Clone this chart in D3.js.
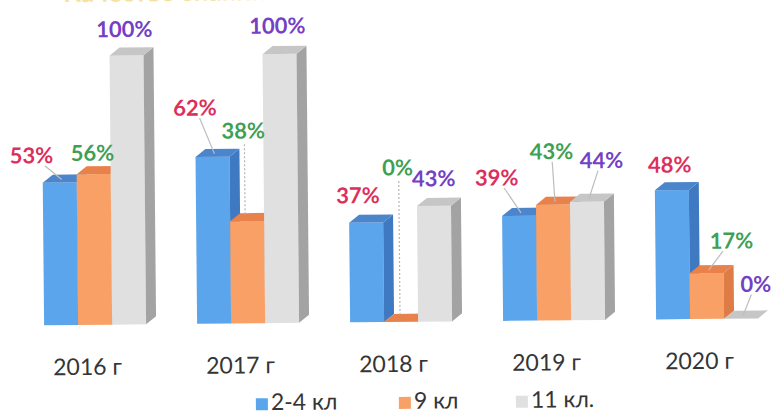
<!DOCTYPE html>
<html>
<head>
<meta charset="utf-8">
<script src="https://cdn.jsdelivr.net/npm/d3@7"></script>
<style>
  body { margin: 0; background: #fff; }
  svg { display: block; }
  .val { font-family: Lato, "Open Sans", sans-serif; font-weight: 700; font-size: 22px; }
  .cat { font-family: Lato, "Open Sans", sans-serif; font-size: 23px; fill: #353535; }
  .leg { font-family: Lato, "Open Sans", sans-serif; font-size: 23px; fill: #353535; }
</style>
</head>
<body>
<svg id="chart" width="774" height="414"></svg>
<script>
// data
var years = ['2016 г', '2017 г', '2018 г', '2019 г', '2020 г'];
var seriesNames = ['2-4 кл', '9 кл', '11 кл.'];
var grade24 = [53, 62, 37, 39, 48];
var grade9 = [56, 38, 0, 43, 17];
var grade11 = [100, 100, 43, 44, 0];

// layout tweaks for the hand-placed value labels [dx, dy] from bar top centre
var labelNudge = [
  [[-28, -28], [-17, -50], [-8, -28], [-22, -39], [-2, -26]],
  [[-1, -22], [-3, -91], [-2, -155], [-1, -54], [25, -33]],
  [[-2, -27], [-2, -29], [0, -28], [15, -42], [15, -35]]
];
// 0 = no leader, 1 = solid leader, 2 = dotted vertical leader
var leaderType = [
  [1, 1, 0, 1, 0],
  [0, 2, 2, 1, 1],
  [0, 0, 0, 1, 1]
];

var series = [grade24, grade9, grade11];
var faces = [
  { front: '#5ba5ec', side: '#3f79c2', top: '#4b86cc', label: '#dc2f5c' },
  { front: '#f9a066', side: '#dd7d45', top: '#e9814b', label: '#3f9f55' },
  { front: '#e0e0e0', side: '#a3a3a3', top: '#c6c6c6', label: '#7440c4' }
];
var depthX = 10, depthY = -8;

var svg = d3.select('#chart');
// scanned original is slightly tilted
var root = svg.append('g').attr('transform', 'rotate(-0.55, 387, 207)');

var x0 = d3.scaleBand().domain(years).range([17.5, 782.5])
    .paddingInner(1 / 3).paddingOuter(1 / 6);
var x1 = d3.scaleBand().domain(d3.range(series.length)).range([0, x0.bandwidth()]);
var y = d3.scaleLinear().domain([0, 100]).range([322, 53]);

// title, mostly cut off by the top edge (only a sliver shows)
root.append('text')
    .attr('x', 167).attr('y', -1)
    .attr('text-anchor', 'middle')
    .attr('font-family', 'Lato, sans-serif')
    .attr('font-weight', 700)
    .attr('font-size', 26)
    .attr('fill', '#f5e2a0')
    .text('Качество знаний');

var bars = root.append('g');
var notes = root.append('g');

years.forEach(function(yr, i) {
  series.forEach(function(vals, s) {
    var v = vals[i];
    var x = x0(yr) + x1(s);
    var w = x1.bandwidth();
    var top = y(v), base = y(0);
    var f = faces[s];
    var g = bars.append('g');

    g.append('rect')
        .attr('x', x).attr('y', top)
        .attr('width', w).attr('height', base - top)
        .attr('fill', f.front);

    g.append('path')
        .attr('d', 'M' + (x + w) + ',' + top +
          'L' + (x + w + depthX) + ',' + (top + depthY) +
          'L' + (x + w + depthX) + ',' + (base + depthY) +
          'L' + (x + w) + ',' + base + 'Z')
        .attr('fill', f.side);

    g.append('path')
        .attr('d', 'M' + x + ',' + top +
          'L' + (x + depthX) + ',' + (top + depthY) +
          'L' + (x + w + depthX) + ',' + (top + depthY) +
          'L' + (x + w) + ',' + top + 'Z')
        .attr('fill', f.top);

    // value label
    var cx = x + w / 2;
    var lx = cx + labelNudge[s][i][0];
    var ly = top + labelNudge[s][i][1];
    var lt = leaderType[s][i];

    if (lt === 1) {
      var tx = cx + 2, ty = top - 3;
      var sx = lx + (tx - lx) * (11 / (ty - ly));
      notes.append('line')
          .attr('x1', sx).attr('y1', ly + 11)
          .attr('x2', tx).attr('y2', ty)
          .attr('stroke', '#bdbdbd').attr('stroke-width', 1.2);
    } else if (lt === 2) {
      notes.append('line')
          .attr('x1', lx + 1).attr('y1', ly + 14)
          .attr('x2', lx + 1).attr('y2', top - 5)
          .attr('stroke', '#b5b5b5').attr('stroke-width', 1.2)
          .attr('stroke-dasharray', '2,2');
    }

    notes.append('text')
        .attr('class', 'val')
        .attr('x', lx).attr('y', ly)
        .attr('text-anchor', 'middle')
        .attr('dominant-baseline', 'central')
        .attr('fill', f.label)
        .text(v + '%');
  });

  root.append('text')
      .attr('class', 'cat')
      .attr('x', x0(yr) + x0.bandwidth() / 2 - 8)
      .attr('y', 363)
      .attr('text-anchor', 'middle')
      .attr('dominant-baseline', 'central')
      .text(yr);
});

// legend
var legendX = [254, 397, 514];
var legend = root.append('g');
seriesNames.forEach(function(name, s) {
  var lg = legend.append('g').attr('transform', 'translate(' + legendX[s] + ',409)');
  lg.append('rect')
      .attr('x', 0).attr('y', -12)
      .attr('width', 12).attr('height', 12)
      .attr('fill', faces[s].front);
  lg.append('text')
      .attr('class', 'leg')
      .attr('x', 15).attr('y', 0)
      .text(name);
});
</script>
</body>
</html>
